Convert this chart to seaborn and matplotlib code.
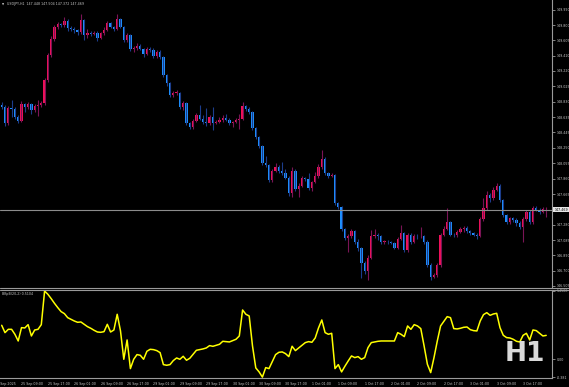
import numpy as np
import pandas as pd
import matplotlib
matplotlib.use("Agg")
import matplotlib.pyplot as plt
import seaborn as sns

# ---------------- data ----------------
symbol_title = "USDJPY,H1  147.448 147.504 147.372 147.469"
indicator_title = "BBpB(20,2) 0.5104"
last_price = 147.469

close = [148.765, 148.563, 148.752, 148.740, 148.639, 148.588, 148.803, 148.765, 148.803, 148.727,
         148.778, 148.790, 148.816, 149.106, 149.422, 149.624, 149.775, 149.813, 149.800, 149.851,
         149.763, 149.750, 149.737, 149.712, 149.863, 149.674, 149.699, 149.687, 149.699, 149.636,
         149.699, 149.737, 149.826, 149.775, 149.750, 149.876, 149.775, 149.611, 149.674, 149.497,
         149.510, 149.535, 149.497, 149.434, 149.497, 149.490, 149.409, 149.459, 149.396, 149.169,
         149.068, 148.917, 148.942, 148.945, 148.765, 148.816, 148.563, 148.513, 148.588, 148.664,
         148.614, 148.576, 148.563, 148.639, 148.563, 148.576, 148.601, 148.626, 148.601, 148.563,
         148.576, 148.601, 148.614, 148.778, 148.740, 148.702, 148.500, 148.386, 148.273, 148.058,
         148.033, 147.844, 147.957, 148.007, 147.957, 147.932, 147.869, 147.679, 147.957, 147.730,
         147.768, 147.869, 147.856, 147.743, 147.818, 147.894, 148.007, 148.108, 147.932, 147.894,
         147.906, 147.553, 147.503, 147.225, 147.111, 147.136, 147.199, 147.061, 146.985, 146.796,
         146.694, 146.859, 147.136, 147.149, 147.136, 147.061, 147.065, 147.058, 147.048, 146.985,
         147.098, 147.174, 146.960, 147.149, 147.061, 147.136, 147.130, 147.140, 147.061, 146.770,
         146.619, 146.644, 146.770, 147.149, 147.225, 147.313, 147.149, 147.145, 147.187, 147.225,
         147.237, 147.199, 147.174, 147.149, 147.136, 147.351, 147.490, 147.654, 147.616, 147.717,
         147.768, 147.591, 147.401, 147.313, 147.364, 147.338, 147.300, 147.250, 147.351, 147.439,
         147.313, 147.490, 147.465, 147.439, 147.477, 147.469]

open_ = [148.790, 148.765, 148.563, 148.752, 148.740, 148.639, 148.588, 148.803, 148.765, 148.803,
         148.727, 148.778, 148.790, 148.816, 149.106, 149.422, 149.624, 149.775, 149.813, 149.800,
         149.851, 149.763, 149.750, 149.737, 149.712, 149.863, 149.674, 149.699, 149.687, 149.699,
         149.636, 149.699, 149.737, 149.826, 149.775, 149.750, 149.876, 149.775, 149.611, 149.674,
         149.497, 149.510, 149.535, 149.497, 149.434, 149.497, 149.490, 149.409, 149.459, 149.396,
         149.169, 149.068, 148.917, 148.942, 148.945, 148.765, 148.816, 148.563, 148.513, 148.588,
         148.664, 148.614, 148.576, 148.563, 148.639, 148.563, 148.576, 148.601, 148.626, 148.601,
         148.563, 148.576, 148.601, 148.614, 148.778, 148.740, 148.702, 148.500, 148.386, 148.273,
         148.058, 148.033, 147.844, 147.957, 148.007, 147.957, 147.932, 147.869, 147.679, 147.957,
         147.730, 147.768, 147.869, 147.856, 147.743, 147.818, 147.894, 148.007, 148.108, 147.932,
         147.894, 147.906, 147.553, 147.503, 147.225, 147.111, 147.136, 147.199, 147.061, 146.985,
         146.796, 146.694, 146.859, 147.136, 147.149, 147.136, 147.061, 147.065, 147.058, 147.048,
         146.985, 147.098, 147.174, 146.960, 147.149, 147.061, 147.136, 147.130, 147.140, 147.061,
         146.770, 146.619, 146.644, 146.770, 147.149, 147.225, 147.313, 147.149, 147.145, 147.187,
         147.225, 147.237, 147.199, 147.174, 147.149, 147.136, 147.351, 147.490, 147.654, 147.616,
         147.717, 147.768, 147.591, 147.401, 147.313, 147.364, 147.338, 147.300, 147.250, 147.351,
         147.439, 147.313, 147.490, 147.465, 147.439, 147.448]

high = [148.83, 148.79, 148.78, 148.853, 148.77, 148.66, 148.84, 148.82, 148.83, 148.82,
        148.80, 148.85, 148.84, 149.13, 149.45, 149.66, 149.80, 149.84, 149.83, 149.90,
        149.87, 149.79, 149.77, 149.75, 149.939, 149.88, 149.75, 149.72, 149.72, 149.72,
        149.71, 149.78, 149.85, 149.84, 149.79, 149.939, 149.89, 149.79, 149.70, 149.69,
        149.54, 149.57, 149.56, 149.51, 149.52, 149.52, 149.51, 149.48, 149.48, 149.41,
        149.18, 149.08, 148.97, 148.98, 148.96, 148.84, 148.83, 148.58, 148.61, 148.69,
        148.79, 148.66, 148.75, 148.66, 148.76, 148.60, 148.64, 148.66, 148.68, 148.62,
        148.59, 148.62, 148.68, 148.828, 148.79, 148.76, 148.72, 148.51, 148.40, 148.29,
        148.15, 148.05, 147.98, 148.06, 148.03, 148.07, 147.98, 147.89, 148.01, 147.98,
        147.80, 147.89, 147.88, 147.93, 147.83, 147.95, 148.04, 148.22, 148.13, 147.95,
        147.93, 147.92, 147.56, 147.52, 147.24, 147.16, 147.22, 147.21, 147.10, 147.00,
        146.82, 146.90, 147.21, 147.22, 147.17, 147.15, 147.09, 147.09, 147.07, 147.06,
        147.12, 147.28, 147.19, 147.17, 147.17, 147.16, 147.16, 147.25, 147.15, 147.08,
        146.79, 146.67, 146.79, 147.17, 147.26, 147.49, 147.33, 147.17, 147.21, 147.25,
        147.26, 147.26, 147.21, 147.19, 147.17, 147.37, 147.62, 147.70, 147.68, 147.75,
        147.81, 147.79, 147.60, 147.42, 147.38, 147.38, 147.36, 147.32, 147.37, 147.46,
        147.46, 147.51, 147.52, 147.49, 147.50, 147.504]

low = [148.74, 148.53, 148.54, 148.64, 148.61, 148.56, 148.57, 148.70, 148.74, 148.68,
       148.70, 148.65, 148.77, 148.79, 149.08, 149.40, 149.60, 149.75, 149.77, 149.78,
       149.73, 149.72, 149.70, 149.68, 149.69, 149.61, 149.64, 149.66, 149.67, 149.60,
       149.62, 149.68, 149.72, 149.76, 149.72, 149.74, 149.76, 149.58, 149.59, 149.47,
       149.46, 149.49, 149.48, 149.40, 149.42, 149.46, 149.38, 149.38, 149.37, 149.14,
       149.03, 148.89, 148.89, 148.92, 148.74, 148.73, 148.54, 148.49, 148.49, 148.57,
       148.60, 148.55, 148.52, 148.54, 148.48, 148.55, 148.56, 148.58, 148.59, 148.54,
       148.51, 148.56, 148.49, 148.60, 148.72, 148.68, 148.48, 148.36, 148.25, 148.03,
       148.01, 147.82, 147.82, 147.94, 147.93, 147.91, 147.85, 147.64, 147.63, 147.71,
       147.63, 147.75, 147.83, 147.72, 147.70, 147.80, 147.87, 147.98, 147.90, 147.87,
       147.88, 147.53, 147.48, 147.20, 147.08, 146.93, 147.11, 147.03, 146.95, 146.60,
       146.66, 146.58, 146.84, 147.11, 147.08, 147.03, 147.04, 147.03, 147.03, 146.97,
       146.97, 147.08, 146.94, 146.93, 147.04, 147.05, 147.10, 147.11, 147.04, 146.75,
       146.58, 146.60, 146.62, 146.75, 147.13, 147.21, 147.13, 147.12, 147.12, 147.17,
       147.19, 147.18, 147.15, 147.13, 147.10, 147.12, 147.33, 147.47, 147.56, 147.59,
       147.70, 147.57, 147.38, 147.29, 147.29, 147.31, 147.26, 147.23, 147.06, 147.33,
       147.29, 147.29, 147.45, 147.42, 147.43, 147.372]

bbpb = [0.726, 0.569, 0.640, 0.640, 0.534, 0.391, 0.676, 0.669, 0.740, 0.498,
        0.626, 0.640, 0.740, 1.4588, 1.388, 1.295, 1.195, 1.103, 1.018, 0.975,
        0.889, 0.854, 0.818, 0.790, 0.797, 0.747, 0.697, 0.662, 0.619, 0.583,
        0.576, 0.590, 0.747, 0.583, 0.626, 0.961, 0.605, 0.000, 0.413, -0.199,
        0.000, 0.100, 0.085, 0.000, 0.171, 0.213, 0.206, 0.185, 0.142, -0.114,
        -0.128, -0.114, -0.028, 0.028, 0.000, 0.064, -0.021, 0.021, 0.107, 0.192,
        0.206, 0.221, 0.242, 0.292, 0.277, 0.299, 0.320, 0.384, 0.377, 0.370,
        0.398, 0.427, 0.498, 1.053, 0.961, 0.925, 0.285, -0.185, -0.270, -0.381,
        -0.178, -0.199, -0.050, 0.100, 0.149, 0.157, 0.121, 0.057, 0.278, 0.185,
        0.242, 0.299, 0.356, 0.377, 0.363, 0.455, 0.669, 0.840, 0.569, 0.534,
        0.555, -0.199, -0.114, -0.270, -0.149, -0.036, 0.071, 0.036, 0.057, 0.000,
        0.036, 0.249, 0.356, 0.370, 0.384, 0.391, 0.391, 0.391, 0.391, 0.391,
        0.569, 0.534, 0.484, 0.712, 0.640, 0.740, 0.712, 0.655, 0.285, -0.107,
        -0.285, 0.036, 0.391, 0.712, 0.811, 0.911, 0.889, 0.655, 0.648, 0.662,
        0.683, 0.690, 0.633, 0.612, 0.605, 0.818, 0.954, 0.996, 0.939, 0.968,
        0.982, 0.676, 0.512, 0.463, 0.455, 0.427, 0.384, 0.370, 0.512, 0.555,
        0.413, 0.626, 0.612, 0.555, 0.498, 0.5104]

price_ticks = [149.990, 149.800, 149.605, 149.410, 149.220, 149.025, 148.830, 148.635, 148.445,
               148.250, 148.055, 147.860, 147.665, 147.280, 147.085, 146.890, 146.700, 146.505]
price_tick_labels = ["149.990", "149.800", "149.605", "149.410", "149.220", "149.025", "148.830",
                     "148.635", "148.445", "148.250", "148.055", "147.860", "147.665", "147.280",
                     "147.085", "146.890", "146.700", "146.505"]
ind_ticks = [1.4588, 0.0, -0.381]
ind_tick_labels = ["1.4588", "0.00", "-0.381"]
time_tick_bars = [6, 14, 22, 30, 38, 46, 54, 62, 70, 78, 86, 94, 102, 110, 118, 126, 134, 142, 150, 158]
time_tick_labels = ["25 Sep 09:00", "25 Sep 17:00", "26 Sep 01:00", "26 Sep 09:00", "26 Sep 17:00",
                    "29 Sep 01:00", "29 Sep 09:00", "29 Sep 17:00", "30 Sep 01:00", "30 Sep 09:00",
                    "30 Sep 17:00", "1 Oct 01:00", "1 Oct 09:00", "1 Oct 17:00", "2 Oct 01:00",
                    "2 Oct 09:00", "2 Oct 17:00", "3 Oct 01:00", "3 Oct 09:00", "3 Oct 17:00"]
first_date_label = "25 Sep 2025"

df = pd.DataFrame({"bar": np.arange(len(close)), "open": open_, "high": high,
                   "low": low, "close": close, "bbpb": bbpb})

# ---------------- style ----------------
sns.set_style("dark")
plt.rcParams["font.family"] = ["DejaVu Sans"]
BG = "#000000"
FG = "#c8c8c8"
AXC = "#9a9a9a"
UP = "#f0105a"
DOWN = "#1e90ff"
UP_WICK = "#7a1456"
DOWN_WICK = "#1c3d8c"
FS = 2.3

W, H = 569, 387
fig = plt.figure(figsize=(W / 100, H / 100), dpi=100, facecolor=BG)

plot_w = 552 / W
ax = fig.add_axes([0, (H - 287) / H, plot_w, 287 / H])
ax2 = fig.add_axes([0, (H - 378) / H, plot_w, 88 / H])

xlim = (-0.515, 166.76)
for a in (ax, ax2):
    a.set_facecolor(BG)
    a.set_xlim(*xlim)
    for s in ("top", "left"):
        a.spines[s].set_visible(False)
    a.spines["right"].set_color(AXC)
    a.spines["right"].set_linewidth(0.8)
    a.grid(False)

# ---- candles ----
up = df["close"] >= df["open"]
body_h = (df["close"] - df["open"]).where((df["close"] - df["open"]).abs() > 0.006,
                                        np.where(up, 0.006, -0.006))
ax.vlines(df["bar"][up], df["low"][up], df["high"][up], color=UP_WICK, linewidth=0.8)
ax.vlines(df["bar"][~up], df["low"][~up], df["high"][~up], color=DOWN_WICK, linewidth=0.8)
ax.bar(df["bar"][up], body_h[up], bottom=df["open"][up], width=0.7, color=UP, linewidth=0)
ax.bar(df["bar"][~up], body_h[~up], bottom=df["open"][~up], width=0.7, color=DOWN, linewidth=0)

ymin, ymax = 146.492, 150.116
ax.set_ylim(ymin, ymax)
ax.axhline(last_price, color="#8c8c8c", linewidth=0.8)
ax.spines["bottom"].set_visible(False)
ax.set_xticks([])
ax.yaxis.tick_right()
ax.set_yticks(price_ticks)
ax.set_yticklabels(price_tick_labels)
ax.tick_params(axis="y", colors=AXC, labelcolor=FG, labelsize=FS, length=2, width=0.6, pad=1.2)
ax.text(1.004, (last_price - ymin) / (ymax - ymin), "147.469", transform=ax.transAxes,
        ha="left", va="center", fontsize=FS, color="#000000",
        bbox=dict(boxstyle="square,pad=0.25", facecolor="#e6e6e6", edgecolor="none"),
        clip_on=False)
ax.text(0.013, 0.992, symbol_title, transform=ax.transAxes, ha="left", va="top",
        fontsize=FS, color=FG)
ax.text(0.003, 0.991, "\u25bc", transform=ax.transAxes, ha="left", va="top",
        fontsize=2.0, color=FG)

# ---- indicator ----
sns.lineplot(data=df, x="bar", y="bbpb", ax=ax2, color="#ffff00", linewidth=1.1, legend=False)
ax2.set_ylim(-0.40, 1.48)
ax2.set_xlabel("")
ax2.set_ylabel("")
ax2.spines["bottom"].set_color(AXC)
ax2.spines["bottom"].set_linewidth(0.8)
ax2.yaxis.tick_right()
ax2.set_yticks(ind_ticks)
ax2.set_yticklabels(ind_tick_labels)
ax2.tick_params(axis="y", colors=AXC, labelcolor=FG, labelsize=FS, length=2, width=0.6, pad=1.2)
ax2.set_xticks(time_tick_bars)
ax2.set_xticklabels(time_tick_labels)
ax2.tick_params(axis="x", colors=AXC, labelcolor=FG, labelsize=FS, length=2, width=0.6, pad=1.0)
for lbl in ax2.get_xticklabels():
    lbl.set_horizontalalignment("left")
ax2.annotate(first_date_label, xy=(-2.0, 0), xycoords=("data", "axes fraction"),
             xytext=(0, -3.2), textcoords="offset points", ha="left", va="top",
             fontsize=FS, color=FG, annotation_clip=False)
ax2.text(0.004, 0.975, indicator_title, transform=ax2.transAxes, ha="left", va="top",
         fontsize=FS, color=FG)
ax2.text(0.914, 0.12, "H1", transform=ax2.transAxes, ha="left", va="bottom",
         fontsize=19, fontweight="bold", color="#d9d9d9")

# window separators
for ypx in (287.5, 290.0):
    fig.add_artist(plt.Line2D([0, 1], [(H - ypx) / H] * 2, color=AXC, linewidth=0.8))

fig.savefig("out.png", dpi=100, facecolor=BG)
